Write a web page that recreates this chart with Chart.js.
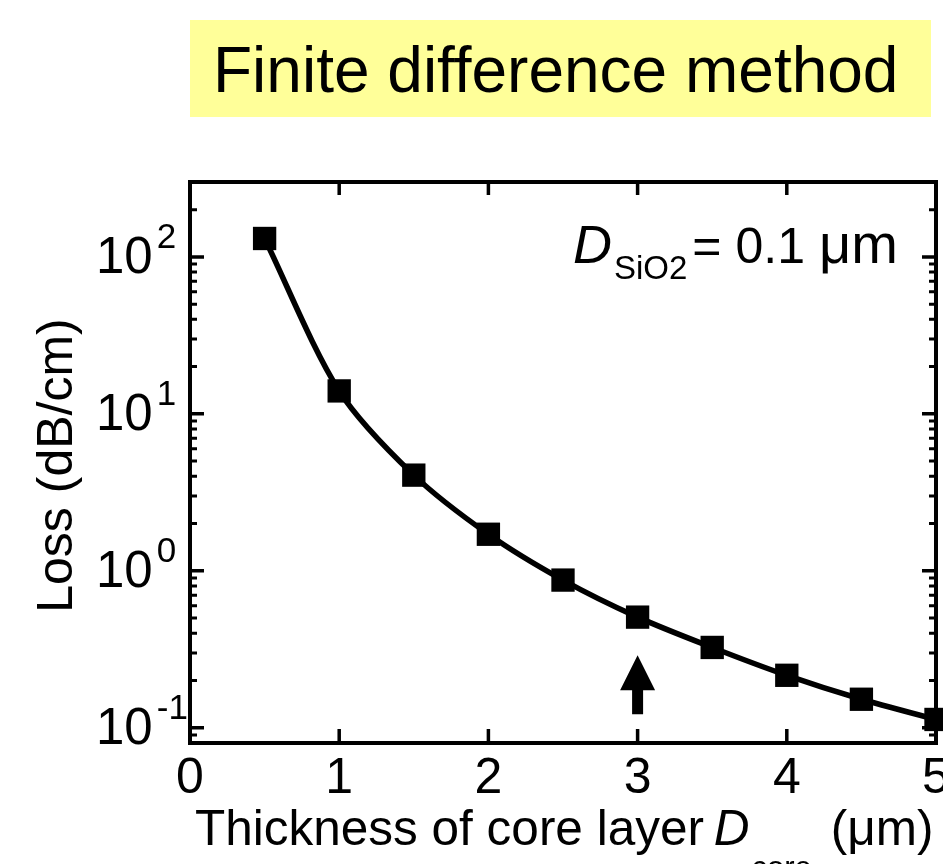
<!DOCTYPE html>
<html>
<head>
<meta charset="utf-8">
<script src="https://cdn.jsdelivr.net/npm/chart.js@4.4.1/dist/chart.umd.min.js"></script>
<style>
  html, body { margin: 0; padding: 0; background: #fff; }
  #wrap { position: relative; width: 943px; height: 864px; overflow: hidden; }
  #title {
    position: absolute; left: 190px; top: 20px; width: 718px; height: 97px;
    padding-left: 23px; background: #ffff99; color: #000;
    font: 64px "Liberation Sans", Arial, sans-serif; line-height: 101px;
    white-space: nowrap; overflow: hidden;
  }
  #chart { position: absolute; left: 0; top: 0; }
</style>
</head>
<body>
<div id="wrap">
  <canvas id="chart" width="943" height="864"></canvas>
  <div id="title">Finite difference method</div>
</div>
<script>
const thickness = [0.5, 1.0, 1.5, 2.0, 2.5, 3.0, 3.5, 4.0, 4.5, 5.0];
const loss = [131, 14.0, 4.07, 1.71, 0.873, 0.507, 0.325, 0.216, 0.152, 0.113];
const xTicks = [0, 1, 2, 3, 4, 5];
const yMajor = [0.1, 1, 10, 100];
const yExponents = ['-1', '0', '1', '2'];
const arrowAt = 3;
const arrowTip = 0.29;
const arrowBase = 0.122;

const FONT = '"Liberation Sans", Arial, sans-serif';

// minor ticks on log axis: 2..9 of each decade inside the range
const yMinor = [];
[0.01, 0.1, 1, 10, 100].forEach(d => {
  for (let k = 2; k <= 9; k++) {
    const v = +(d * k).toPrecision(3);
    if (v >= 0.08 && v <= 300) yMinor.push(v);
  }
});

const decor = {
  id: 'decor',
  beforeDatasetsDraw(chart) {
    const { ctx, chartArea: a, scales: { x, y } } = chart;
    ctx.save();
    ctx.strokeStyle = '#000';
    ctx.lineWidth = 4;
    ctx.strokeRect(a.left, a.top, a.right - a.left, a.bottom - a.top);
    ctx.lineWidth = 3.5;
    ctx.beginPath();
    xTicks.forEach(v => {
      const px = x.getPixelForValue(v);
      ctx.moveTo(px, a.bottom); ctx.lineTo(px, a.bottom - 14);
      ctx.moveTo(px, a.top); ctx.lineTo(px, a.top + 13);
    });
    yMajor.forEach(v => {
      const py = y.getPixelForValue(v);
      ctx.moveTo(a.left, py); ctx.lineTo(a.left + 14, py);
      ctx.moveTo(a.right, py); ctx.lineTo(a.right - 14, py);
    });
    ctx.stroke();
    ctx.lineWidth = 3;
    ctx.beginPath();
    yMinor.forEach(v => {
      const py = y.getPixelForValue(v);
      ctx.moveTo(a.left, py); ctx.lineTo(a.left + 7, py);
      ctx.moveTo(a.right, py); ctx.lineTo(a.right - 7, py);
    });
    ctx.stroke();
    ctx.restore();
  },
  afterDraw(chart) {
    const { ctx, chartArea: a, scales: { x, y } } = chart;
    ctx.save();
    ctx.fillStyle = '#000';

    // x tick labels
    ctx.font = '50px ' + FONT;
    ctx.textAlign = 'center';
    ctx.textBaseline = 'alphabetic';
    xTicks.forEach(v => ctx.fillText(String(v), x.getPixelForValue(v), 793));

    // y tick labels 10^n
    ctx.textAlign = 'left';
    yMajor.forEach((v, i) => {
      const py = y.getPixelForValue(v);
      ctx.font = '51px ' + FONT;
      ctx.fillText('10', 96, py + 16);
      const w = ctx.measureText('10').width;
      ctx.font = '35px ' + FONT;
      ctx.fillText(yExponents[i], 96 + w + 4, py - 9);
    });

    // y axis title
    ctx.save();
    ctx.translate(72, (a.top + a.bottom) / 2 + 3);
    ctx.rotate(-Math.PI / 2);
    ctx.font = '50px ' + FONT;
    ctx.textAlign = 'center';
    ctx.fillText('Loss (dB/cm)', 0, 0);
    ctx.restore();

    // x axis title
    ctx.textAlign = 'left';
    let cx = 195;
    ctx.font = '49.5px ' + FONT;
    ctx.fillText('Thickness of core layer ', cx, 845);
    cx += ctx.measureText('Thickness of core layer ').width - 4;
    ctx.font = 'italic 49.5px ' + FONT;
    ctx.fillText('D', cx, 845);
    cx += ctx.measureText('D').width + 2;
    ctx.font = '31px ' + FONT;
    ctx.fillText('core', cx, 878);
    cx += ctx.measureText('core').width + 19;
    ctx.font = '49.5px ' + FONT;
    ctx.fillText('(\u03bcm)', cx, 845);

    // annotation
    let tx = 573;
    ctx.font = 'italic 54px ' + FONT;
    ctx.fillText('D', tx, 263);
    tx += ctx.measureText('D').width + 2;
    ctx.font = '33px ' + FONT;
    ctx.fillText('SiO2', tx, 279);
    tx += ctx.measureText('SiO2').width + 5;
    ctx.font = '50px ' + FONT;
    ctx.fillText('= 0.1', tx, 263);
    tx += ctx.measureText('= 0.1').width + 14;
    ctx.font = '56px ' + FONT;
    ctx.fillText('\u03bcm', tx, 263);

    // arrow marking the chosen thickness
    const ax = x.getPixelForValue(arrowAt);
    const yt = y.getPixelForValue(arrowTip);
    const yb = y.getPixelForValue(arrowBase);
    ctx.beginPath();
    ctx.moveTo(ax, yt);
    ctx.lineTo(ax + 17.5, yt + 35);
    ctx.lineTo(ax + 5.5, yt + 35);
    ctx.lineTo(ax + 5.5, yb);
    ctx.lineTo(ax - 5.5, yb);
    ctx.lineTo(ax - 5.5, yt + 35);
    ctx.lineTo(ax - 17.5, yt + 35);
    ctx.closePath();
    ctx.fill();
    ctx.restore();
  }
};

new Chart(document.getElementById('chart').getContext('2d'), {
  type: 'line',
  data: {
    datasets: [{
      data: thickness.map((t, i) => ({ x: t, y: loss[i] })),
      borderColor: '#000',
      backgroundColor: '#000',
      borderWidth: 5.5,
      tension: 0.3,
      pointStyle: 'rect',
      pointRadius: 16.5,
      pointBorderWidth: 0,
      pointBackgroundColor: '#000',
      clip: false
    }]
  },
  options: {
    responsive: false,
    animation: false,
    events: [],
    layout: { autoPadding: false, padding: { left: 0, top: 182, right: 7, bottom: 0 } },
    plugins: { legend: { display: false }, tooltip: { enabled: false } },
    scales: {
      x: {
        type: 'linear', min: 0, max: 5,
        grid: { display: false }, border: { display: false },
        ticks: { display: false },
        afterFit: s => { s.height = 121; }
      },
      y: {
        type: 'logarithmic', min: 0.08, max: 300,
        grid: { display: false }, border: { display: false },
        ticks: { display: false },
        afterFit: s => { s.width = 190; }
      }
    }
  },
  plugins: [decor]
});
</script>
</body>
</html>
